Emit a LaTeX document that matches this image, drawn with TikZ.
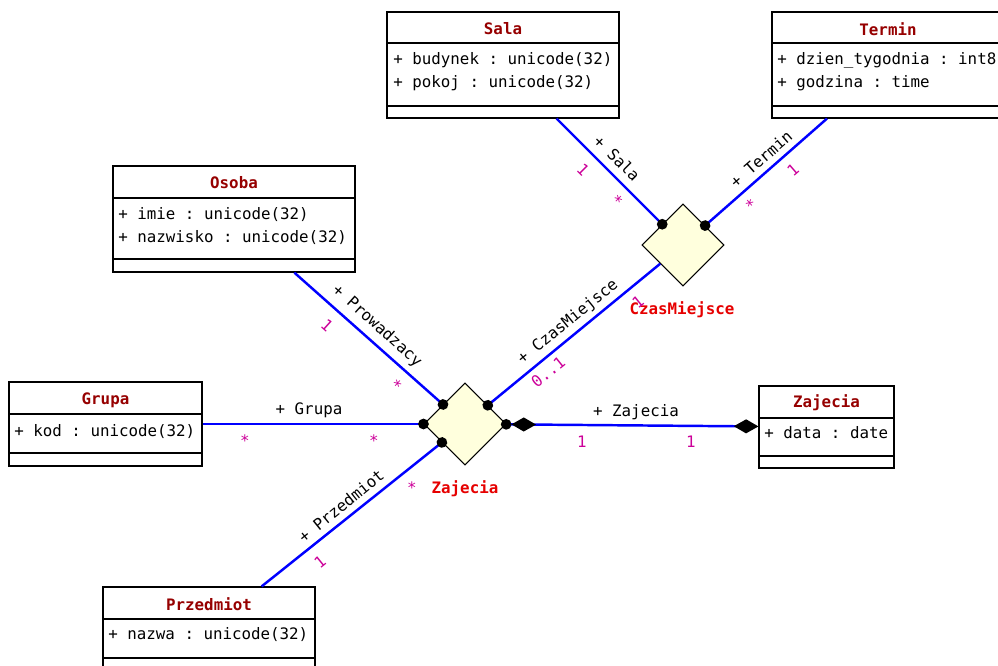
\documentclass[tikz,border=0pt]{standalone}
\usepackage{fontspec}
\setmonofont{DejaVu Sans Mono}
\usepackage{tikz}
\usetikzlibrary{shapes.geometric, arrows.meta}

\definecolor{tytulred}{RGB}{150,0,0}
\definecolor{asocred}{RGB}{230,0,0}
\definecolor{krotnosc}{RGB}{204,0,153}
\definecolor{asocfill}{RGB}{255,255,221}

\tikzset{
  klasa/.style={draw, line width=0.7pt, inner sep=0pt},
  tytul/.style={font=\ttfamily\bfseries\fontsize{9}{13}\selectfont, text=tytulred},
  atrybuty/.style={font=\ttfamily\fontsize{9}{13}\selectfont, align=left, anchor=west, inner sep=0pt},
  asocjacja/.style={diamond, draw, fill=asocfill, minimum width=1.64cm, minimum height=1.64cm, inner sep=0pt, line width=0.6pt},
  polaczenie/.style={draw=blue, line width=1.4pt},
  kropka/.style={-{Circle[length=6pt, color=black]}, shorten >=-3pt},
  rola/.style={font=\ttfamily\fontsize{9}{13}\selectfont},
  krot/.style={font=\ttfamily\fontsize{9}{13}\selectfont, text=krotnosc},
  nazwa/.style={font=\ttfamily\bfseries\fontsize{9}{13}\selectfont, text=asocred},
}

\begin{document}
\begin{tikzpicture}[x=0.02cm, y=-0.02cm]
  \useasboundingbox (0,0) rectangle (998,666);

  % klasy
  \node[klasa, minimum width=4.64cm, minimum height=2.12cm] (sala) at (503,65) {};
  \draw[line width=0.7pt] (sala.west |- 0,43) -- (sala.east |- 0,43) (sala.west |- 0,106) -- (sala.east |- 0,106);
  \node[tytul] (salaTytul) at (503,29) {Sala};
  \node[atrybuty] (salaAtr) at (393,72) {+ budynek : unicode(32)\\+ pokoj : unicode(32)};

  \node[klasa, minimum width=4.64cm, minimum height=2.12cm] (termin) at (888,65) {};
  \draw[line width=0.7pt] (termin.west |- 0,43) -- (termin.east |- 0,43) (termin.west |- 0,106) -- (termin.east |- 0,106);
  \node[tytul] (terminTytul) at (888,29) {Termin};
  \node[atrybuty] (terminAtr) at (777,72) {+ dzien\_tygodnia : int8\\+ godzina : time};

  \node[klasa, minimum width=4.84cm, minimum height=2.12cm] (osoba) at (234,219) {};
  \draw[line width=0.7pt] (osoba.west |- 0,198) -- (osoba.east |- 0,198) (osoba.west |- 0,259) -- (osoba.east |- 0,259);
  \node[tytul] (osobaTytul) at (234,183) {Osoba};
  \node[atrybuty] (osobaAtr) at (118,226) {+ imie : unicode(32)\\+ nazwisko : unicode(32)};

  \node[klasa, minimum width=3.86cm, minimum height=1.68cm] (grupa) at (105.5,424) {};
  \draw[line width=0.7pt] (grupa.west |- 0,414) -- (grupa.east |- 0,414) (grupa.west |- 0,453) -- (grupa.east |- 0,453);
  \node[tytul] (grupaTytul) at (105.5,400) {Grupa};
  \node[atrybuty] (grupaAtr) at (14,432) {+ kod : unicode(32)};

  \node[klasa, minimum width=4.24cm, minimum height=1.66cm] (przedmiot) at (209,628.5) {};
  \draw[line width=0.7pt] (przedmiot.west |- 0,619) -- (przedmiot.east |- 0,619) (przedmiot.west |- 0,658) -- (przedmiot.east |- 0,658);
  \node[tytul] (przedmiotTytul) at (209,604) {Przedmiot};
  \node[atrybuty] (przedmiotAtr) at (108,635) {+ nazwa : unicode(32)};

  \node[klasa, minimum width=2.7cm, minimum height=1.64cm] (zajecia) at (826.5,427) {};
  \draw[line width=0.7pt] (zajecia.west |- 0,418) -- (zajecia.east |- 0,418) (zajecia.west |- 0,456) -- (zajecia.east |- 0,456);
  \node[tytul] (zajeciaTytul) at (826.5,403) {Zajecia};
  \node[atrybuty] (zajeciaAtr) at (764,433) {+ data : date};

  % asocjacje
  \node[asocjacja] (czasMiejsce) at (683,245) {};
  \node[asocjacja] (zajAsoc) at (465,424) {};
  \node[nazwa] (czasMiejsceNazwa) at (682,310) {CzasMiejsce};
  \node[nazwa] (zajAsocNazwa) at (465,489) {Zajecia};

  \draw[polaczenie, kropka] (sala) -- (czasMiejsce);
  \draw[polaczenie, kropka] (termin) -- (czasMiejsce);
  \draw[polaczenie, kropka] (czasMiejsce) -- (zajAsoc);
  \draw[polaczenie, kropka] (osoba) -- (zajAsoc);
  \draw[polaczenie, kropka] (grupa) -- (zajAsoc);
  \draw[polaczenie, kropka] (przedmiot) -- (zajAsoc);
  \draw[polaczenie, {Circle[length=6pt, color=black, sep=0pt] Diamond[length=14pt, width=8pt, color=black]}-{Diamond[length=14pt, width=8pt, color=black]}, shorten <=-3pt] (zajAsoc) -- (zajecia);

  % role i krotnosci
  \node[rola, rotate=-45] (rolaSala) at (617,158) {+ Sala};
  \node[krot, rotate=-45] (krSala1) at (583,170) {1};
  \node[krot, rotate=-45] (krSala2) at (617,201) {*};
  \node[rola, rotate=41] (rolaTermin) at (761,159) {+ Termin};
  \node[krot, rotate=41] (krTermin1) at (793,170) {1};
  \node[krot, rotate=41] (krTermin2) at (751,205) {*};
  \node[rola, rotate=39] (rolaCzM) at (568,322) {+ CzasMiejsce};
  \node[krot, rotate=39] (krCzM1) at (548,372) {0..1};
  \node[krot, rotate=39] (krCzM2) at (638,302) {1};
  \node[rola, rotate=-42] (rolaProw) at (377,326) {+ Prowadzacy};
  \node[krot, rotate=-42] (krProw1) at (327,325) {1};
  \node[krot, rotate=-42] (krProw2) at (396,385) {*};
  \node[rola] (rolaGrupa) at (309,410) {+ Grupa};
  \node[krot] (krGrupa1) at (245,441) {*};
  \node[krot] (krGrupa2) at (374,441) {*};
  \node[rola, rotate=39] (rolaPrzedm) at (341,506) {+ Przedmiot};
  \node[krot, rotate=39] (krPrzedm1) at (320,562) {1};
  \node[krot] (krPrzedm2) at (412,488) {*};
  \node[rola] (rolaZaj) at (636,412) {+ Zajecia};
  \node[krot] (krZaj1) at (582,442) {1};
  \node[krot] (krZaj2) at (691,442) {1};
\end{tikzpicture}
\end{document}
